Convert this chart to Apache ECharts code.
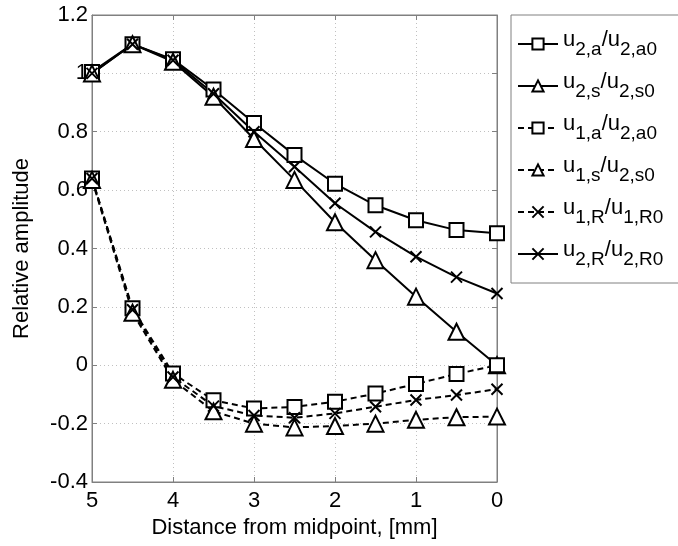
<!DOCTYPE html>
<html>
<head>
<meta charset="utf-8">
<script src="https://cdn.jsdelivr.net/npm/echarts@6/dist/echarts.min.js"></script>
<style>html,body{margin:0;padding:0;background:#fff}#c{width:678px;height:546px}</style>
</head>
<body>
<div id="c"></div>
<script>
// distance from midpoint [mm]
const xs = [5, 4.5, 4, 3.5, 3, 2.5, 2, 1.5, 1, 0.5, 0];
const u2a = [1.005, 1.1, 1.048, 0.945, 0.83, 0.72, 0.622, 0.548, 0.497, 0.463, 0.452];
const u2s = [1.0, 1.1, 1.04, 0.92, 0.775, 0.635, 0.49, 0.36, 0.235, 0.115, 0.0];
const u1a = [0.64, 0.195, -0.028, -0.12, -0.148, -0.143, -0.125, -0.097, -0.064, -0.03, 0.0];
const u1s = [0.635, 0.18, -0.05, -0.158, -0.2, -0.213, -0.208, -0.2, -0.187, -0.178, -0.176];
const u1R = [0.64, 0.19, -0.04, -0.14, -0.172, -0.18, -0.165, -0.142, -0.119, -0.102, -0.082];
const u2R = [1.0, 1.1, 1.045, 0.93, 0.8, 0.68, 0.555, 0.457, 0.372, 0.302, 0.246];
const yTicks = [-0.4, 1.2, 0.2];
const xTicks = [0, 5, 1];

const names = ['u2a', 'u2s', 'u1a', 'u1s', 'u1R', 'u2R'];
const labels = {
  u2a: ['u', '2,a', '/u', '2,a0'],
  u2s: ['u', '2,s', '/u', '2,s0'],
  u1a: ['u', '1,a', '/u', '2,a0'],
  u1s: ['u', '1,s', '/u', '2,s0'],
  u1R: ['u', '1,R', '/u', '1,R0'],
  u2R: ['u', '2,R', '/u', '2,R0']
};
const CROSS = 'path://M0,0L10,10M10,0L0,10';
function mk(name, data, dashed, symbol, size) {
  const isPath = symbol.indexOf('path') === 0;
  return {
    name: name, type: 'line',
    data: xs.map((x, i) => [x, data[i]]),
    symbol: symbol, symbolSize: size, showSymbol: true,
    lineStyle: { color: '#000', width: 2, type: dashed ? [6, 4] : 'solid' },
    itemStyle: isPath ? { color: 'rgba(0,0,0,0)', borderColor: '#000', borderWidth: 2 } : { color: '#000', borderWidth: 2 },
    emphasis: { disabled: true },
    z: 2
  };
}
const chart = echarts.init(document.getElementById('c'));
const FONT = 'Liberation Sans';
chart.setOption({
  animation: false,
  backgroundColor: '#fff',
  grid: { left: 92, right: 181, top: 15, bottom: 64, show: true, borderColor: '#808080', borderWidth: 1 },
  legend: {
    orient: 'vertical', left: 511, top: 15,
    data: names,
    itemWidth: 40, itemHeight: 14, itemGap: 12,
    padding: [14, 40, 14, 6],
    borderColor: '#808080', borderWidth: 1,
    backgroundColor: '#fff',
    selectedMode: false,
    formatter: function (n) {
      const l = labels[n];
      return '{m|' + l[0] + '}{s|' + l[1] + '}{m|' + l[2] + '}{s|' + l[3] + '}';
    },
    textStyle: {
      fontFamily: FONT, color: '#000',
      rich: {
        m: { fontFamily: FONT, fontSize: 22, color: '#000', verticalAlign: 'top' },
        s: { fontFamily: FONT, fontSize: 19, color: '#000', verticalAlign: 'top', padding: [11, 0, 0, 0] }
      }
    }
  },
  xAxis: [{
    type: 'value', min: xTicks[0], max: xTicks[1], interval: xTicks[2], inverse: true,
    name: 'Distance from midpoint, [mm]', nameLocation: 'middle', nameGap: 32,
    nameTextStyle: { fontFamily: FONT, fontSize: 22, color: '#000' },
    axisLine: { show: true, onZero: false, lineStyle: { color: '#808080' } },
    axisTick: { show: true, inside: true, length: 5, lineStyle: { color: '#808080' } },
    axisLabel: { fontFamily: FONT, fontSize: 22, color: '#000', margin: 8 },
    splitLine: { show: true, lineStyle: { color: '#c0c0c0', type: [1, 3] } }
  }, {
    type: 'value', position: 'top', min: xTicks[0], max: xTicks[1], interval: xTicks[2], inverse: true,
    axisLine: { show: true, onZero: false, lineStyle: { color: '#808080' } },
    axisTick: { show: true, inside: true, length: 5, lineStyle: { color: '#808080' } },
    axisLabel: { show: false }, splitLine: { show: false }
  }],
  yAxis: [{
    type: 'value', min: yTicks[0], max: yTicks[1], interval: yTicks[2],
    name: 'Relative amplitude', nameLocation: 'middle', nameGap: 59, nameRotate: 90,
    nameTextStyle: { fontFamily: FONT, fontSize: 22, color: '#000' },
    axisLine: { show: true, onZero: false, lineStyle: { color: '#808080' } },
    axisTick: { show: true, inside: true, length: 5, lineStyle: { color: '#808080' } },
    axisLabel: { fontFamily: FONT, fontSize: 22, color: '#000', margin: 4,
      formatter: v => { const r = Math.round(v * 10) / 10; return r === 0 ? '0' : (Number.isInteger(r) ? String(r) : r.toFixed(1)); } },
    splitLine: { show: true, lineStyle: { color: '#c0c0c0', type: [1, 3] } }
  }, {
    type: 'value', position: 'right', min: yTicks[0], max: yTicks[1], interval: yTicks[2],
    axisLine: { show: true, onZero: false, lineStyle: { color: '#808080' } },
    axisTick: { show: true, inside: true, length: 5, lineStyle: { color: '#808080' } },
    axisLabel: { show: false }, splitLine: { show: false }
  }],
  series: [
    mk('u2a', u2a, false, 'emptyRect', 14),
    mk('u2s', u2s, false, 'emptyTriangle', 16),
    mk('u1a', u1a, true, 'emptyRect', 14),
    mk('u1s', u1s, true, 'emptyTriangle', 16),
    mk('u1R', u1R, true, CROSS, 11),
    mk('u2R', u2R, false, CROSS, 11)
  ]
});
</script>
</body>
</html>
